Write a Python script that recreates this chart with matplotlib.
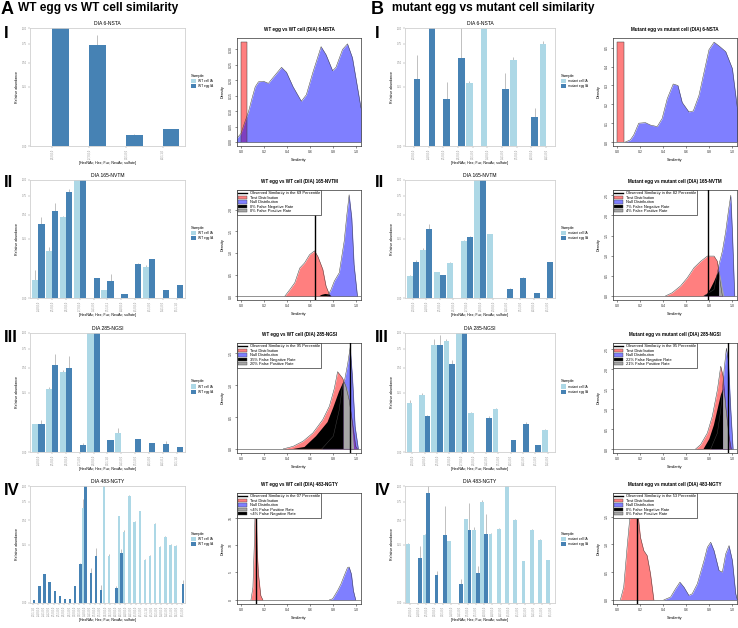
import numpy as np
import matplotlib
matplotlib.use('Agg')
import matplotlib.pyplot as plt
from matplotlib.patches import Patch
from matplotlib.lines import Line2D

plt.rcParams['font.family'] = ['Liberation Sans', 'DejaVu Sans']

W, H = 738, 628

# ---------------- bar chart data (relative abundance) ----------------
sites = ['6-NSTA', '165-NVTM', '285-NGSI', '483-NGTY']

# WT (panel A)
a1_labels = ['2,6,0,0,0', '2,7,0,0,0', '3,3,1,0,0', '4,3,1,1,0']
a1_cell = [0, 0, 0, 0]
a1_cell_sd = [0, 0, 0, 0]
a1_egg = [1.0, 0.733, 0.0087, 0.02]
a1_egg_sd = [0, 0.15, 0.001, 0.001]

a2_labels = ['2,4,0,0,0', '2,5,0,0,0', '2,6,0,0,0', '2,7,0,0,0', '3,4,1,0,0', '3,5,1,0,1',
             '4,4,0,0,0', '4,5,0,0,0', '4,5,1,0,0', '5,4,1,0,0', '5,5,1,1,0']
a2_cell = [0.024, 0.162, 0.472, 1.0, 0, 0.005, 0, 0, 0.07, 0, 0]
a2_cell_sd = [0.033, 0.024, 0.012, 0, 0, 0, 0, 0, 0.009, 0, 0]
a2_egg = [0.39, 0.545, 0.80, 1.0, 0.0286, 0.0198, 0.0011, 0.083, 0.109, 0.0046, 0.0115]
a2_egg_sd = [0.08, 0.108, 0.048, 0, 0, 0.021, 0, 0.0045, 0, 0, 0]

a3_labels = ['2,4,0,0,0', '2,5,0,0,0', '2,6,0,0,0', '2,7,1,0,0', '2,8,0,0,0', '3,3,1,1,0',
             '3,4,1,0,0', '3,5,1,0,0', '4,3,1,0,0', '4,4,1,0,1', '5,3,1,1,0']
a3_cell = [0.054, 0.283, 0.448, 0, 1.0, 0, 0.0255, 0, 0, 0, 0]
a3_cell_sd = [0, 0.015, 0.023, 0, 0, 0, 0.0145, 0, 0, 0, 0]
a3_egg = [0.057, 0.53, 0.498, 0.0038, 1.0, 0.0096, 0, 0.0113, 0.0062, 0.0049, 0.0018]
a3_egg_sd = [0.017, 0.153, 0.148, 0.0024, 0, 0, 0, 0, 0, 0.003, 0]

a4_labels = ['2,3,1,1,0', '2,4,0,0,0', '2,4,1,0,0', '2,4,2,0,0', '2,5,0,0,0', '2,5,1,0,0',
             '2,6,0,0,0', '2,6,1,0,0', '3,3,0,0,0', '3,3,1,0,0', '3,4,0,0,0', '3,4,1,0,0',
             '3,5,0,0,0', '3,5,1,0,0', '3,6,0,0,0', '3,6,1,0,0', '4,3,0,0,0', '4,3,1,0,0',
             '4,4,0,0,0', '4,4,1,0,0', '4,5,0,0,0', '4,5,1,0,0', '4,5,1,1,0', '4,5,2,0,0',
             '5,3,1,0,0', '5,4,0,0,0', '5,4,1,0,0', '5,5,1,0,0', '5,6,1,0,0', '6,5,1,0,0']
a4_cell = [0, 0, 0, 0, 0, 0, 0, 0, 0, 0, 0.658, 0, 0, 0, 1.0, 0.162, 0, 0.549, 0.367,
           0.838, 0.476, 0.613, 0.134, 0.162, 0.457, 0.229, 0.317, 0.243, 0.237, 0]
a4_cell_sd = [0, 0, 0, 0, 0, 0, 0, 0, 0, 0, 0.13, 0, 0, 0, 0, 0.016, 0, 0.008, 0.017,
              0.01, 0.01, 0.01, 0.005, 0.006, 0.01, 0.008, 0.01, 0.008, 0.008, 0]
a4_egg = [0.0008, 0.02, 0.0615, 0.0335, 0.0108, 0.0031, 0.0011, 0.0011, 0.0214, 0.112,
          1.0, 0.064, 0.162, 0.0128, 0, 0, 0.016, 0.186, 0, 0, 0, 0, 0, 0, 0, 0, 0, 0, 0, 0.0256]
a4_egg_sd = [0, 0, 0, 0, 0, 0, 0, 0, 0, 0.004, 0, 0.027, 0.06, 0.01, 0, 0, 0.005, 0.025,
             0, 0, 0, 0, 0, 0, 0, 0, 0, 0, 0, 0.013]

# mutant (panel B)
b1_labels = ['2,3,0,0,0', '2,4,0,0,0', '2,5,0,0,0', '2,6,0,0,0', '3,3,1,0,0', '3,4,0,0,0',
             '3,4,1,0,0', '3,5,0,0,0', '4,3,0,0,0', '4,4,1,0,0']
b1_cell = [0, 0, 0, 0, 0.282, 1.0, 0, 0.531, 0, 0.747]
b1_cell_sd = [0, 0, 0, 0, 0.021, 0, 0, 0.034, 0, 0.05]
b1_egg = [0.319, 1.0, 0.156, 0.552, 0, 0, 0.231, 0, 0.059, 0]
b1_egg_sd = [0.276, 0, 0.141, 0.448, 0, 0, 0.155, 0, 0.047, 0]

b2_labels = ['2,3,0,0,0', '2,4,0,0,0', '2,5,0,0,0', '2,6,0,0,0', '2,7,0,0,0', '2,8,0,0,0',
             '2,9,0,0,0', '3,4,1,0,0', '3,5,1,0,0', '4,3,0,0,0', '4,5,1,0,0']
b2_cell = [0.0335, 0.167, 0.047, 0.0875, 0.235, 1.0, 0.292, 0, 0, 0, 0]
b2_cell_sd = [0.003, 0.012, 0.003, 0.004, 0.008, 0, 0.006, 0, 0, 0, 0]
b2_egg = [0.0926, 0.343, 0.0367, 0, 0.271, 1.0, 0, 0.0062, 0.0286, 0.0016, 0.091]
b2_egg_sd = [0.012, 0.047, 0.002, 0, 0.008, 0, 0, 0.001, 0.002, 0, 0.002]

b3_labels = ['2,3,0,0,0', '2,4,0,0,0', '2,5,0,0,0', '2,6,0,0,0', '2,7,0,0,0', '2,8,0,0,0',
             '3,4,1,0,0', '3,5,1,0,0', '4,3,1,0,0', '4,4,1,0,0', '4,5,1,0,0', '5,4,1,0,0']
b3_cell = [0.17, 0.227, 0.813, 0.865, 1.0, 0.107, 0, 0.13, 0, 0, 0, 0.033]
b3_cell_sd = [0.023, 0.019, 0.094, 0.042, 0, 0.005, 0, 0.004, 0, 0, 0, 0.0055]
b3_egg = [0, 0.09, 0.813, 0.551, 1.0, 0, 0.082, 0, 0.0096, 0.057, 0.0031, 0]
b3_egg_sd = [0, 0.005, 0.157, 0.051, 0, 0, 0.008, 0, 0.001, 0.0066, 0, 0]

b4_labels = ['2,3,0,0,0', '2,4,0,0,0', '2,5,0,0,0', '3,3,0,0,0', '3,3,1,0,0', '3,4,0,0,0',
             '3,4,1,0,0', '3,5,0,0,0', '3,5,1,0,0', '4,3,0,0,0', '4,4,0,0,0', '4,4,1,0,0',
             '4,5,0,0,0', '4,5,1,0,0', '5,3,1,0,0', '5,4,1,0,0', '5,5,1,0,0', '6,5,1,0,0']
b4_cell = [0.254, 0, 0.342, 0, 0, 0.278, 0, 0.511, 0.384, 0.748, 0.349, 0.402, 1.0,
           0.507, 0.126, 0.391, 0.29, 0.134]
b4_cell_sd = [0.005, 0, 0.01, 0, 0, 0.006, 0, 0.01, 0.036, 0.025, 0.005, 0.005, 0,
              0.005, 0.003, 0.005, 0.005, 0.003]
b4_egg = [0, 0.145, 0.878, 0.057, 0.342, 0, 0.027, 0.391, 0.064, 0.349, 0, 0, 0, 0, 0, 0, 0, 0]
b4_egg_sd = [0, 0.095, 0.15, 0.018, 0.347, 0, 0.016, 0.34, 0.036, 0.234, 0, 0, 0, 0, 0, 0, 0, 0]

# ---------------- similarity density data (x, density) ----------------
a1_red = [(0.0, 0), (0.0, 0.324), (0.055, 0.324), (0.055, 0)]
a1_blue = [(-0.04, 0.01), (0.0, 0.028), (0.023, 0.054), (0.066, 0.1), (0.094, 0.14),
           (0.123, 0.179), (0.151, 0.195), (0.194, 0.197), (0.237, 0.19), (0.28, 0.21),
           (0.351, 0.242), (0.394, 0.226), (0.451, 0.179), (0.523, 0.132), (0.566, 0.153),
           (0.623, 0.226), (0.694, 0.309), (0.737, 0.283), (0.794, 0.231), (0.823, 0.242),
           (0.88, 0.3), (0.923, 0.318), (0.966, 0.273), (1.04, 0.11)]

a2_red = [(0.38, 0), (0.423, 0.15), (0.466, 0.31), (0.509, 0.65), (0.551, 0.77), (0.594, 0.96),
          (0.637, 1.05), (0.666, 0.92), (0.709, 0.62), (0.737, 0.23), (0.766, 0.04), (0.78, 0)]
a2_blue = [(0.751, 0), (0.78, 0.15), (0.809, 0.35), (0.851, 0.54), (0.894, 1.27), (0.917, 1.88),
           (0.937, 2.35), (0.96, 1.81), (0.98, 0.73), (1.009, 0)]
a2_black = [(0.68, 0), (0.70, 0.03), (0.73, 0.05), (0.76, 0.04), (0.78, 0)]
a2_obs = 0.637

a3_red = [(0.366, 0), (0.451, 0.04), (0.537, 0.12), (0.623, 0.25), (0.709, 0.46), (0.766, 0.67),
          (0.809, 0.95), (0.837, 1.21), (0.88, 1.11), (0.909, 0.98), (0.937, 0.77), (0.966, 0.41),
          (0.994, 0.04), (1.009, 0)]
a3_blue = [(0.7, 0), (0.8, 0.2), (0.85, 0.6), (0.88, 1.0), (0.9, 1.1), (0.925, 1.34), (0.946, 1.59),
           (0.966, 1.13), (0.989, 0.35), (1.017, 0)]
a3_black = [(0.45, 0), (0.55, 0.03), (0.65, 0.2), (0.75, 0.42), (0.8, 0.65), (0.85, 0.9),
            (0.89, 1.06), (0.89, 0)]
a3_grey = [(0.89, 0), (0.89, 1.06), (0.91, 1.0), (0.93, 0.9), (0.95, 0.65), (0.965, 0.35), (0.98, 0)]
a3_obs = 0.946

a4_red = [(0.086, 0), (0.103, 2.3), (0.114, 9.5), (0.122, 16), (0.128, 18.7), (0.134, 15),
          (0.14, 9), (0.151, 4.7), (0.171, 0.8), (0.189, 0)]
a4_blue = [(0.766, 0), (0.794, 0.2), (0.837, 1.7), (0.866, 2.9), (0.894, 4.4), (0.923, 5.9),
           (0.937, 6.0), (0.957, 4.7), (0.974, 1.7), (0.994, 0)]
a4_obs = 0.131

b1_red = [(0.0, 0), (0.0, 0.53), (0.064, 0.53), (0.064, 0)]
b1_blue = [(0.072, 0), (0.116, 0.012), (0.145, 0.038), (0.188, 0.1), (0.246, 0.103), (0.29, 0.09),
           (0.348, 0.082), (0.391, 0.125), (0.435, 0.23), (0.487, 0.308), (0.528, 0.3),
           (0.565, 0.21), (0.623, 0.16), (0.661, 0.165), (0.71, 0.247), (0.754, 0.37),
           (0.797, 0.49), (0.841, 0.53), (0.884, 0.51), (0.942, 0.48), (1.0, 0.39), (1.043, 0.18)]

b2_red = [(0.42, 0), (0.478, 0.08), (0.551, 0.25), (0.609, 0.45), (0.667, 0.7), (0.725, 0.86),
          (0.783, 0.99), (0.841, 0.99), (0.87, 0.86), (0.893, 0.37), (0.913, 0)]
b2_blue = [(0.754, 0), (0.841, 0.16), (0.884, 0.78), (0.913, 1.11), (0.942, 1.6), (0.965, 2.1),
           (0.986, 2.5), (1.0, 1.6), (1.02, 0)]
b2_black = [(0.75, 0), (0.78, 0.05), (0.81, 0.18), (0.84, 0.35), (0.87, 0.55), (0.885, 0.62), (0.885, 0)]
b2_grey = [(0.885, 0), (0.885, 0.62), (0.9, 0.45), (0.915, 0.2), (0.93, 0)]
b2_obs = 0.788

b3_red = [(0.681, 0), (0.725, 0.11), (0.783, 0.4), (0.826, 0.82), (0.87, 1.48), (0.899, 2.07),
          (0.919, 1.82), (0.942, 1.07), (0.971, 0.32), (0.99, 0)]
b3_blue = [(0.812, 0), (0.87, 0.4), (0.899, 0.98), (0.928, 1.98), (0.948, 2.52), (0.965, 2.23),
           (0.986, 0.98), (1.006, 0)]
b3_black = [(0.75, 0), (0.8, 0.25), (0.84, 0.6), (0.88, 1.1), (0.9, 1.35), (0.92, 1.5), (0.92, 0)]
b3_grey = [(0.92, 0), (0.92, 1.5), (0.94, 1.2), (0.955, 0.8), (0.97, 0.3), (0.975, 0)]
b3_obs = 0.962

b4_red = [(0.029, 0), (0.058, 0.23), (0.087, 0.95), (0.116, 1.6), (0.145, 1.86), (0.174, 1.7),
          (0.203, 1.13), (0.232, 0.89), (0.261, 0.8), (0.29, 0.47), (0.319, 0)]
b4_blue = [(0.406, 0), (0.464, 0.05), (0.507, 0.2), (0.545, 0.32), (0.58, 0.23), (0.623, 0.08),
           (0.652, 0.11), (0.696, 0.29), (0.754, 0.71), (0.783, 0.95), (0.812, 1.04), (0.841, 0.89),
           (0.884, 0.53), (0.913, 0.5), (0.942, 0.83), (0.971, 0.98), (1.0, 0.71), (1.029, 0.11),
           (1.043, 0)]
b4_obs = 0.174

a2_legend = ['Observed Similarity in the 69 Percentile', 'Test Distribution', 'Null Distribution',
             '0% False Negative Rate', '0% False Positive Rate']
a3_legend = ['Observed Similarity in the 95 Percentile', 'Test Distribution', 'Null Distribution',
             '35% False Negative Rate', '20% False Positive Rate']
a4_legend = ['Observed Similarity in the 07 Percentile', 'Test Distribution', 'Null Distribution',
             '<4% False Positive Rate', '<4% False Negative Rate']
b2_legend = ['Observed Similarity in the 82 Percentile', 'Test Distribution', 'Null Distribution',
             '7% False Negative Rate', '4% False Positive Rate']
b3_legend = ['Observed Similarity in the 95 Percentile', 'Test Distribution', 'Null Distribution',
             '22% False Negative Rate', '21% False Positive Rate']
b4_legend = ['Observed Similarity in the 53 Percentile', 'Test Distribution', 'Null Distribution',
             '0% False Negative Rate', '0% False Positive Rate']

LIGHT = '#add8e6'
DARK = '#4682b4'
RED = (1, 0, 0, 0.5)
BLUE = (0, 0, 1, 0.5)
GREY = '#a6a6a6'


def px_axes(fig, x0, y0, x1, y1):
    return fig.add_axes([x0 / W, 1 - y1 / H, (x1 - x0) / W, (y1 - y0) / H])


def fig_text(fig, x, y, s, **kw):
    fig.text(x / W, 1 - y / H, s, **kw)


def bar_panel(ax, title, labels, cell, cell_sd, egg, egg_sd, names):
    x = np.arange(len(labels))
    ax.set_yscale('function', functions=(lambda v: np.sqrt(np.clip(v, 0, None)), np.square))
    for xs, vals, sds, col in [(x - 0.225, cell, cell_sd, LIGHT), (x + 0.225, egg, egg_sd, DARK)]:
        vals = np.array(vals, float)
        sds = np.array(sds, float)
        m = vals > 0
        ax.vlines(xs[m], vals[m], vals[m] + sds[m], color='#b5b5b5', lw=0.6, zorder=1)
        ax.bar(xs[m], vals[m], width=0.45, color=col, zorder=2)
    ax.set_xlim(-0.6, len(labels) - 0.4)
    ax.set_ylim(0, 1.0)
    ax.set_yticks([0, 0.25, 0.5, 0.75, 1.0])
    ax.set_yticklabels(['0.00', '0.25', '0.50', '0.75', '1.00'])
    ax.set_xticks(x)
    ax.set_xticklabels(labels, rotation=90)
    ax.tick_params(labelsize=1.8, colors='#888888', length=1.2, width=0.3, pad=1)
    for sp in ax.spines.values():
        sp.set_color('#d0d0d0')
        sp.set_linewidth(0.6)
    ax.set_title(title, fontsize=3.6, pad=2.5)
    ax.set_xlabel('[HexNAc; Hex; Fuc; NeuAc; sulfate]', fontsize=2.6, labelpad=1.5)
    ax.set_ylabel('Relative abundance', fontsize=2.6, labelpad=2)
    handles = [Patch(facecolor=LIGHT), Patch(facecolor=DARK)]
    leg = ax.legend(handles, names, title='Sample', loc='center left', bbox_to_anchor=(1.02, 0.55),
                    frameon=False, fontsize=2.3, title_fontsize=3.0, handlelength=1.6,
                    handleheight=1.6, labelspacing=0.3, handletextpad=0.5)
    leg._legend_box.align = 'left'


def dens_panel(ax, title, red, blue, ylim, yticks, ylabels, black=None, grey=None, obs=None,
               legend=None, rate_colors=('black', GREY)):
    for pts, col in [(red, RED), (blue, BLUE)]:
        xs, ys = zip(*pts)
        ax.fill_between(xs, ys, 0, color=col, lw=0, zorder=1)
        ax.plot(xs, ys, color='#404040', lw=0.35, zorder=3)
    for pts, col in [(black, 'black'), (grey, GREY)]:
        if pts:
            xs, ys = zip(*pts)
            ax.fill(xs, ys, color=col, lw=0, zorder=2)
    ax.axhline(0, color='#404040', lw=0.4, zorder=3)
    if obs is not None:
        ax.axvline(obs, color='black', lw=1.0, zorder=4)
    ax.set_xlim(-0.035, 1.04)
    ax.set_ylim(*ylim)
    ax.set_xticks([0, 0.2, 0.4, 0.6, 0.8, 1.0])
    ax.set_xticklabels(['0.0', '0.2', '0.4', '0.6', '0.8', '1.0'])
    ax.set_yticks(yticks)
    ax.set_yticklabels(ylabels, rotation=90, va='center')
    ax.tick_params(labelsize=2.5, length=1.5, width=0.4, pad=1.5, colors='#333333')
    for sp in ax.spines.values():
        sp.set_linewidth(0.5)
        sp.set_color('#333333')
    ax.set_title(title, fontsize=3.3, fontweight='bold', pad=5)
    ax.set_xlabel('Similarity', fontsize=2.8, labelpad=3)
    ax.set_ylabel('Density', fontsize=2.8, labelpad=3)
    if legend:
        handles = [Line2D([], [], color='black', lw=1.0),
                   Patch(facecolor=RED, edgecolor='#444444', lw=0.3),
                   Patch(facecolor=BLUE, edgecolor='#444444', lw=0.3),
                   Patch(facecolor=rate_colors[0], edgecolor='#444444', lw=0.3),
                   Patch(facecolor=rate_colors[1], edgecolor='#444444', lw=0.3)]
        leg = ax.legend(handles, legend, loc='upper left', bbox_to_anchor=(0, 1), borderaxespad=0,
                        fontsize=2.9, frameon=True, fancybox=False, edgecolor='#333333',
                        framealpha=1, handlelength=2.2, handleheight=0.8, labelspacing=0.12,
                        borderpad=0.35, handletextpad=0.6)
        leg.get_frame().set_linewidth(0.5)
        leg.set_zorder(10)


fig = plt.figure(figsize=(W / 100, H / 100), dpi=100)

rows = [(28, 146), (180, 298), (333, 452), (486, 603)]
drows = [(38, 146), (190, 300), (343, 453), (493, 604)]

bar_sets = [
    [(a1_labels, a1_cell, a1_cell_sd, a1_egg, a1_egg_sd),
     (a2_labels, a2_cell, a2_cell_sd, a2_egg, a2_egg_sd),
     (a3_labels, a3_cell, a3_cell_sd, a3_egg, a3_egg_sd),
     (a4_labels, a4_cell, a4_cell_sd, a4_egg, a4_egg_sd)],
    [(b1_labels, b1_cell, b1_cell_sd, b1_egg, b1_egg_sd),
     (b2_labels, b2_cell, b2_cell_sd, b2_egg, b2_egg_sd),
     (b3_labels, b3_cell, b3_cell_sd, b3_egg, b3_egg_sd),
     (b4_labels, b4_cell, b4_cell_sd, b4_egg, b4_egg_sd)],
]
names = [['WT cell IA', 'WT egg IA'], ['mutant cell IA', 'mutant egg IA']]
bar_x = [(30, 185), (405, 555)]
dens_x = [(237, 361), (613, 737)]

for p in range(2):
    for r in range(4):
        ax = px_axes(fig, bar_x[p][0], rows[r][0], bar_x[p][1], rows[r][1])
        bar_panel(ax, 'DIA ' + sites[r], *bar_sets[p][r], names[p])

t_a = 'WT egg vs WT cell (DIA) '
t_b = 'Mutant egg vs mutant cell (DIA) '

ax = px_axes(fig, dens_x[0][0], drows[0][0], dens_x[0][1], drows[0][1])
dens_panel(ax, t_a + sites[0], a1_red, a1_blue, (-0.013, 0.337),
           [0, 0.05, 0.1, 0.15, 0.2, 0.25, 0.3], ['0.00', '0.05', '0.10', '0.15', '0.20', '0.25', '0.30'])
ax = px_axes(fig, dens_x[0][0], drows[1][0], dens_x[0][1], drows[1][1])
dens_panel(ax, t_a + sites[1], a2_red, a2_blue, (-0.09, 2.46), [0, 0.5, 1, 1.5, 2],
           ['0.0', '0.5', '1.0', '1.5', '2.0'], black=a2_black, obs=a2_obs, legend=a2_legend)
ax = px_axes(fig, dens_x[0][0], drows[2][0], dens_x[0][1], drows[2][1])
dens_panel(ax, t_a + sites[2], a3_red, a3_blue, (-0.064, 1.66), [0, 0.5, 1, 1.5],
           ['0.0', '0.5', '1.0', '1.5'], black=a3_black, grey=a3_grey, obs=a3_obs, legend=a3_legend)
ax = px_axes(fig, dens_x[0][0], drows[3][0], dens_x[0][1], drows[3][1])
dens_panel(ax, t_a + sites[3], a4_red, a4_blue, (-0.75, 19.5), [0, 5, 10, 15],
           ['0', '5', '10', '15'], obs=a4_obs, legend=a4_legend, rate_colors=(GREY, 'black'))

ax = px_axes(fig, dens_x[1][0], drows[0][0], dens_x[1][1], drows[0][1])
dens_panel(ax, t_b + sites[0], b1_red, b1_blue, (-0.021, 0.552), [0, 0.1, 0.2, 0.3, 0.4, 0.5],
           ['0.0', '0.1', '0.2', '0.3', '0.4', '0.5'])
ax = px_axes(fig, dens_x[1][0], drows[1][0], dens_x[1][1], drows[1][1])
dens_panel(ax, t_b + sites[1], b2_red, b2_blue, (-0.1, 2.63), [0, 0.5, 1, 1.5, 2, 2.5],
           ['0.0', '0.5', '1.0', '1.5', '2.0', '2.5'], black=b2_black, grey=b2_grey, obs=b2_obs,
           legend=b2_legend)
ax = px_axes(fig, dens_x[1][0], drows[2][0], dens_x[1][1], drows[2][1])
dens_panel(ax, t_b + sites[2], b3_red, b3_blue, (-0.1, 2.65), [0, 0.5, 1, 1.5, 2, 2.5],
           ['0.0', '0.5', '1.0', '1.5', '2.0', '2.5'], black=b3_black, grey=b3_grey, obs=b3_obs,
           legend=b3_legend)
ax = px_axes(fig, dens_x[1][0], drows[3][0], dens_x[1][1], drows[3][1])
dens_panel(ax, t_b + sites[3], b4_red, b4_blue, (-0.075, 1.93), [0, 0.5, 1, 1.5],
           ['0.0', '0.5', '1.0', '1.5'], obs=b4_obs, legend=b4_legend)

# panel headings
fig_text(fig, 1, 1, 'A', fontsize=13, fontweight='bold', va='top')
fig_text(fig, 18, 2, 'WT egg vs WT cell similarity', fontsize=8.6, fontweight='bold', va='top')
fig_text(fig, 371, 1, 'B', fontsize=13, fontweight='bold', va='top')
fig_text(fig, 392, 2, 'mutant egg vs mutant cell similarity', fontsize=8.6, fontweight='bold', va='top')
romans = ['I', 'II', 'III', 'IV']
rom_y = [26, 175, 330, 483]
for r in range(4):
    fig_text(fig, 4, rom_y[r], romans[r], fontsize=12, fontweight='bold', va='top')
    fig_text(fig, 375, rom_y[r], romans[r], fontsize=12, fontweight='bold', va='top')

fig.savefig('out.png', dpi=100)
